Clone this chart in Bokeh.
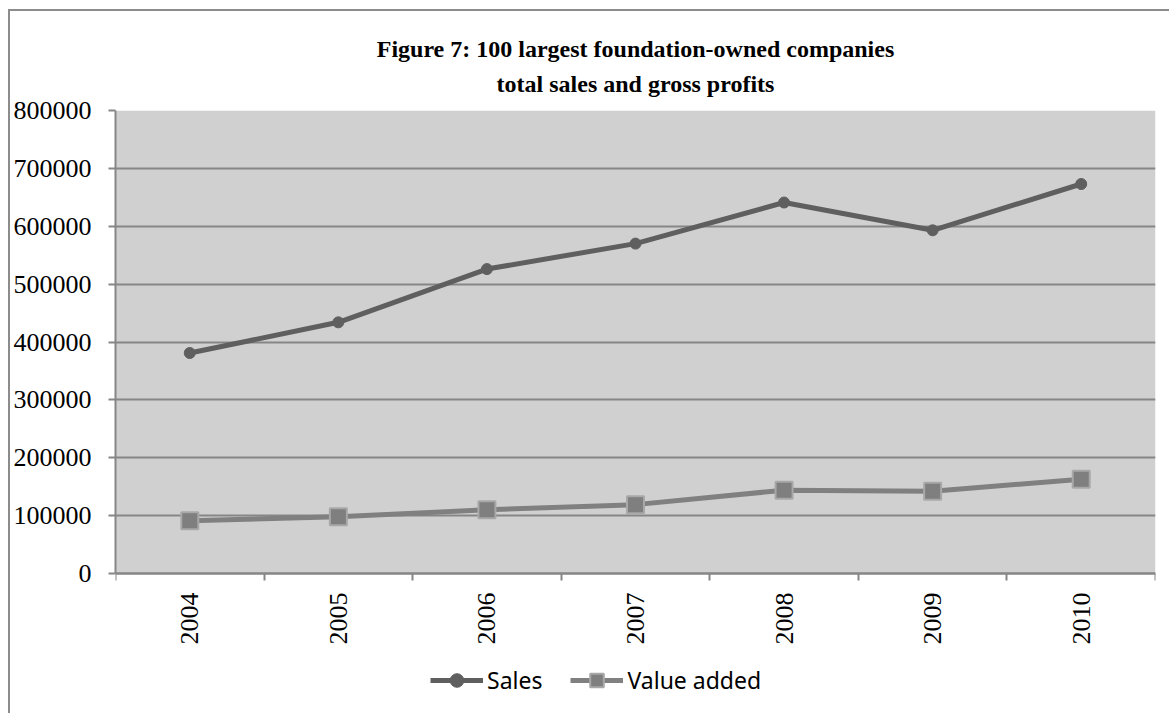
from math import pi
from bokeh.plotting import figure
from bokeh.models import (FixedTicker, Range1d, Title, Legend, LegendItem,
                          BasicTickFormatter, BoxAnnotation)
from bokeh.embed import file_html
from bokeh.resources import INLINE

# ---- data ----
years = ["2004", "2005", "2006", "2007", "2008", "2009", "2010"]
sales = [381000, 434000, 526000, 570000, 641000, 593000, 673000]
value_added = [91000, 98000, 110000, 119000, 144000, 142000, 163000]
y_ticks = [0, 100000, 200000, 300000, 400000, 500000, 600000, 700000, 800000]
title_line1 = "Figure 7: 100 largest foundation-owned companies"
title_line2 = "total sales and gross profits"
series_names = ["Sales", "Value added"]

x = [i + 0.5 for i in range(len(years))]
bounds = list(range(len(years) + 1))

AX = "#868686"
SERIF = "Liberation Serif"

# ---- layout constants (page pixels) ----
OX, OY = 10, 11          # canvas offset produced by the chart-area border
PLOT_LEFT, PLOT_RIGHT = 115, 1155
PLOT_TOP, ZERO_Y, WIN_BOTTOM = 110, 573, 713
frame_h = WIN_BOTTOM - PLOT_TOP
y_min = -y_ticks[-1] * (WIN_BOTTOM - ZERO_Y) / (ZERO_Y - PLOT_TOP)

p = figure(frame_width=PLOT_RIGHT - PLOT_LEFT, frame_height=frame_h,
           output_backend="svg", toolbar_location=None,
           x_range=Range1d(0, len(years)), y_range=Range1d(y_min, y_ticks[-1]),
           min_border_left=PLOT_LEFT - OX, min_border_right=1169 - PLOT_RIGHT,
           min_border_top=PLOT_TOP - OY, min_border_bottom=0)
p.styles = {"margin-left": "8px", "margin-top": "9px",
            "border-left": "2px solid #8c8c8c", "border-top": "2px solid #8c8c8c"}
p.background_fill_color = "white"
p.border_fill_color = "white"
p.outline_line_color = None

# grey plot area (from 0 to the top tick, across all categories)
p.add_layout(BoxAnnotation(left=0, right=len(years), bottom=y_ticks[0],
                           top=y_ticks[-1], fill_color="#d0d0d0", fill_alpha=1,
                           line_color=None, level="image"))

# titles (second line added first so it sits nearest the plot)
p.add_layout(Title(text=title_line2, align="center", text_font=SERIF,
                   text_font_style="bold", text_font_size="24px",
                   text_color="black", standoff=27, offset=0), "above")
p.add_layout(Title(text=title_line1, align="center", text_font=SERIF,
                   text_font_style="bold", text_font_size="24px",
                   text_color="black", standoff=-12, offset=0), "above")

# grid
p.xgrid.visible = False
p.ygrid.ticker = FixedTicker(ticks=y_ticks)
p.ygrid.grid_line_color = AX
p.ygrid.grid_line_width = 2

# y axis
ya = p.yaxis[0]
ya.bounds = (y_ticks[0], y_ticks[-1])
ya.ticker = FixedTicker(ticks=y_ticks, minor_ticks=[])
ya.formatter = BasicTickFormatter(use_scientific=False)
ya.axis_line_color = AX
ya.axis_line_width = 2
ya.major_tick_line_color = AX
ya.major_tick_line_width = 2
ya.major_tick_out = 7
ya.major_tick_in = 0
ya.major_label_standoff = 17
ya.major_label_text_font = SERIF
ya.major_label_text_font_size = "26px"
ya.major_label_text_color = "black"

# x axis, drawn at y = 0
xa = p.xaxis[0]
xa.fixed_location = y_ticks[0]
xa.ticker = FixedTicker(ticks=x, minor_ticks=bounds)
xa.major_label_overrides = {xi: yr for xi, yr in zip(x, years)}
xa.major_label_orientation = pi / 2
xa.axis_line_color = AX
xa.axis_line_width = 2
xa.major_tick_out = 0
xa.major_tick_in = 0
xa.minor_tick_out = 7
xa.minor_tick_in = 0
xa.minor_tick_line_color = AX
xa.minor_tick_line_width = 2
xa.major_label_standoff = 12
xa.major_label_text_font = SERIF
xa.major_label_text_font_size = "26px"
xa.major_label_text_color = "black"

# series
l1 = p.line(x, sales, line_color="#5f5f5f", line_width=5)
s1 = p.scatter(x, sales, marker="circle", size=11, fill_color="#5f5f5f",
               line_color="#5f5f5f")
l2 = p.line(x, value_added, line_color="#808080", line_width=5)
s2 = p.scatter(x, value_added, marker="square", size=17, fill_color="#7f7f7f",
               line_color="#a8a8a8", line_width=2)

legend = Legend(items=[LegendItem(label=series_names[0], renderers=[l1, s1]),
                       LegendItem(label=series_names[1], renderers=[l2, s2])],
                orientation="horizontal", location=(430 - PLOT_LEFT, 16),
                glyph_width=53, glyph_height=34, label_standoff=4, spacing=28,
                padding=0, margin=0, border_line_color=None,
                background_fill_alpha=0, label_text_font="Noto Sans",
                label_text_font_size="23px", label_text_color="black")
p.add_layout(legend, "center")

open("out.html", "w").write(file_html(p, INLINE))
